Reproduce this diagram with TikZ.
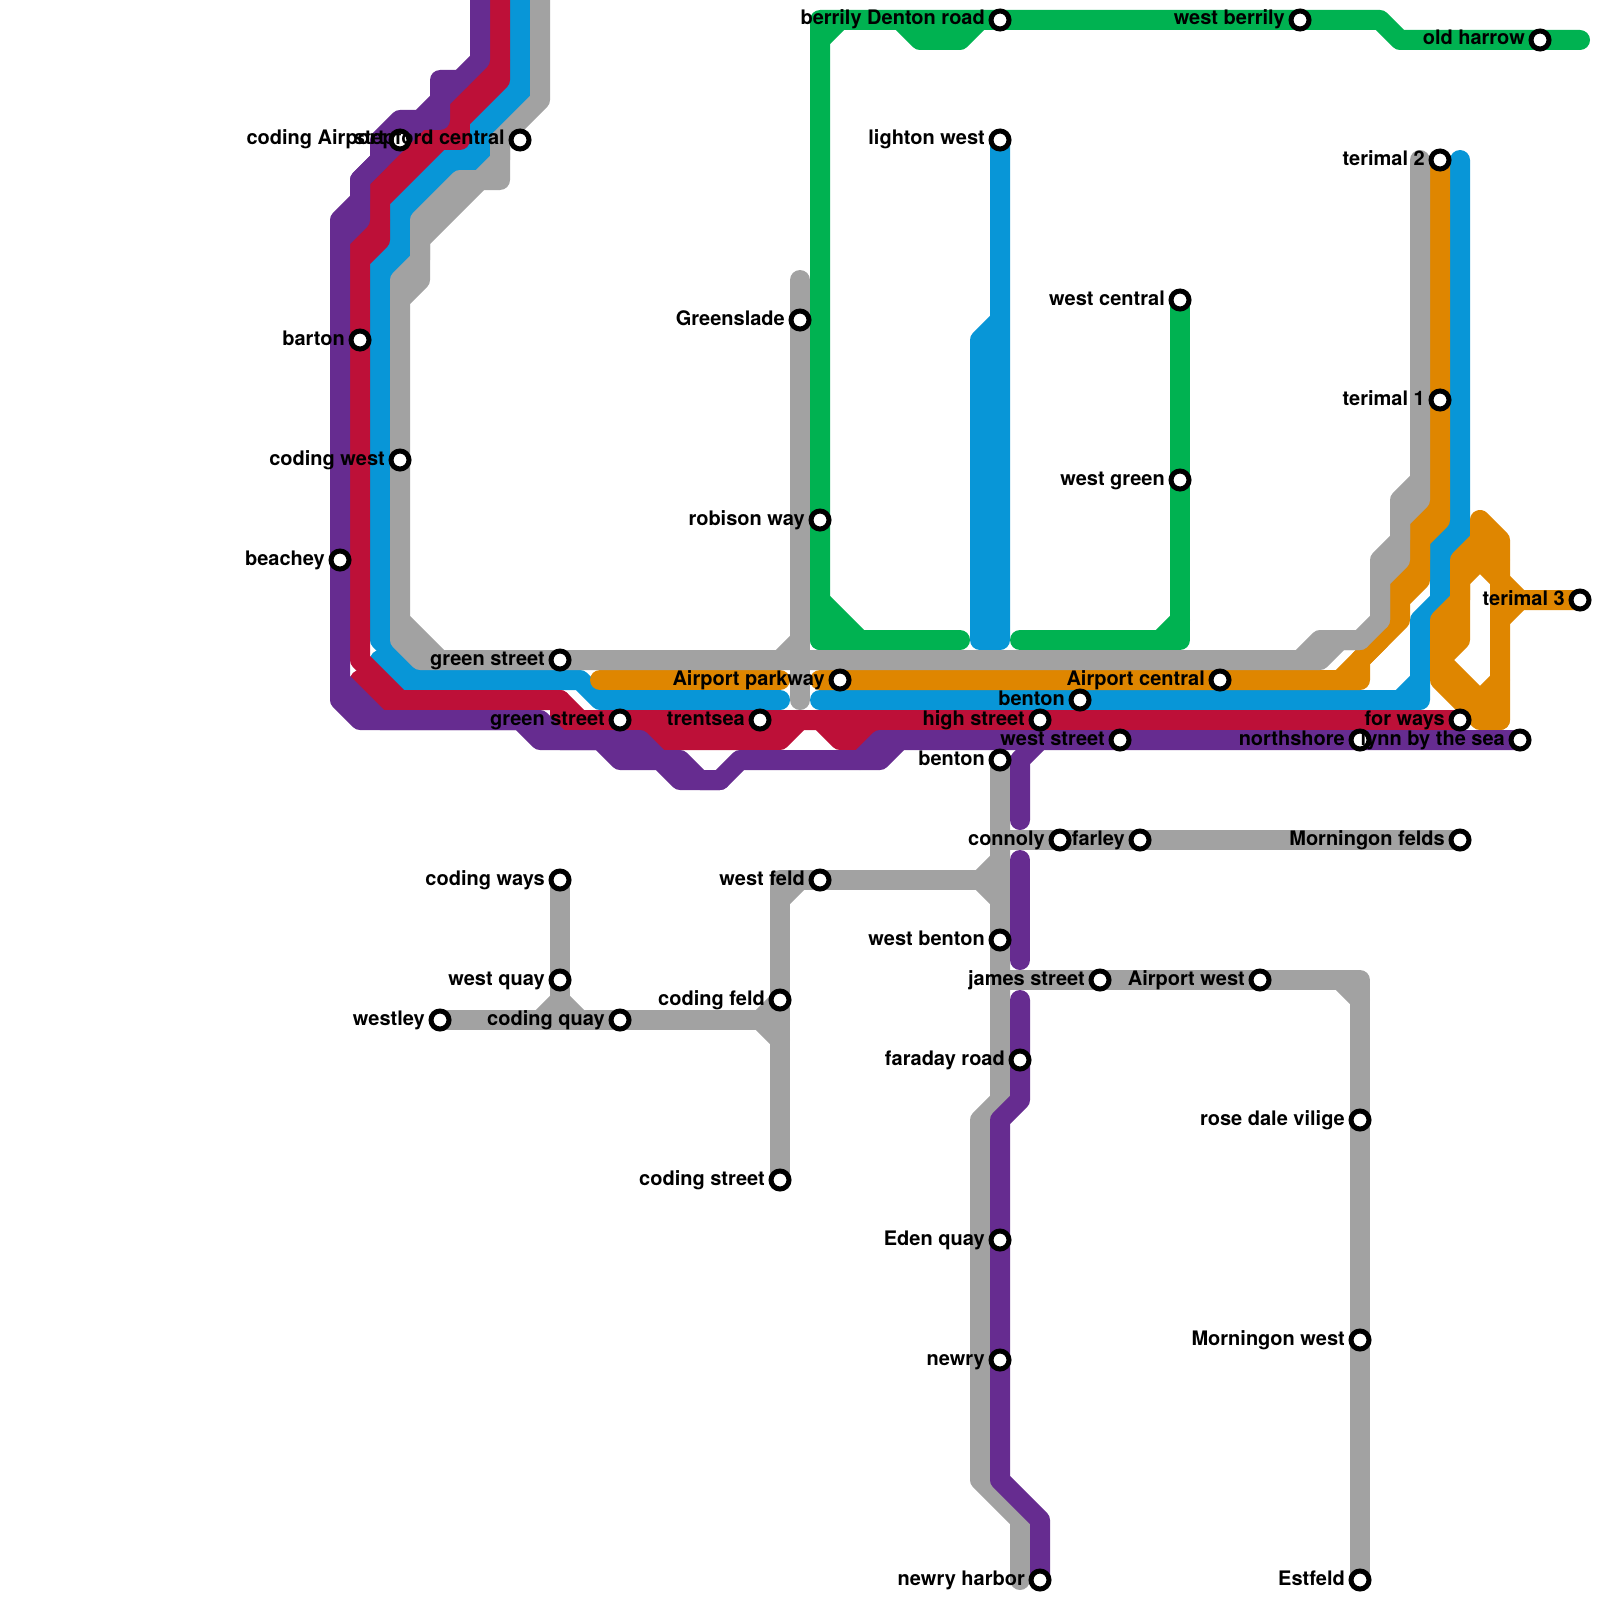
\documentclass[tikz,border=0pt]{standalone}
\usepackage{fontspec}
\setmainfont{TeX Gyre Heros}
\definecolor{mgreen}{HTML}{00B251}
\definecolor{mblue}{HTML}{0896D7}
\definecolor{morange}{HTML}{DF8600}
\definecolor{mgray}{HTML}{A2A2A2}
\definecolor{mred}{HTML}{BD1038}
\definecolor{mpurple}{HTML}{662C90}
\tikzset{
  metro/.style={line width=20pt,line cap=round,line join=round},
  stn/.style={circle,draw=black,fill=white,line width=5pt,minimum size=18pt,inner sep=0pt},
  lbl/.style={anchor=base east,inner sep=0pt,text=black,font=\bfseries\fontsize{20}{20}\selectfont}
}
\newcommand{\stationlist}{%
a/1000/20/berrily Denton road,b/1300/20/west berrily,c/1540/40/old harrow,d/1000/140/lighton west,
e/400/140/coding Airport,f/520/140/stepford central,g/1440/160/terimal 2,h/1180/300/west central,
i/800/320/Greenslade,j/360/340/barton,k/400/460/coding west,l/1440/400/terimal 1,m/1180/480/west green,
n/820/520/robison way,o/340/560/beachey,p/1580/600/terimal 3,q/560/660/green street,r/840/680/Airport parkway,
s/1220/680/Airport central,t/1080/700/benton,u/1040/720/high street,v/620/720/green street,w/760/720/trentsea,
x/1460/720/for ways,y/1120/740/west street,z/1360/740/northshore,aa/1520/740/lynn by the sea,ab/1000/760/benton,
ac/1060/840/connoly,ad/1140/840/farley,ae/1460/840/Morningon felds,af/560/880/coding ways,ag/820/880/west feld,
ah/1000/940/west benton,ai/560/980/west quay,aj/1100/980/james street,ak/1260/980/Airport west,al/780/1000/coding feld,
am/440/1020/westley,an/620/1020/coding quay,ao/1020/1060/faraday road,ap/1360/1120/rose dale vilige,
aq/780/1180/coding street,ar/1000/1240/Eden quay,as/1360/1340/Morningon west,at/1000/1360/newry,
au/1360/1580/Estfeld,av/1040/1580/newry harbor}
\begin{document}
\begin{tikzpicture}[x=1pt,y=-1pt]
\useasboundingbox (0,0) rectangle (1600,1600);
\clip (0,0) rectangle (1600,1600);
% green
\draw[metro,mgreen] (820,640)--(820,20)--(1380,20)--(1400,40)--(1580,40);
\draw[metro,mgreen] (820,40)--(840,20);
\draw[metro,mgreen] (900,20)--(920,40)--(960,40)--(980,20);
\draw[metro,mgreen] (820,600)--(860,640)--(960,640)--(820,640);
\draw[metro,mgreen] (820,620)--(840,640);
\draw[metro,mgreen] (1020,640)--(1180,640)--(1180,300);
\draw[metro,mgreen] (1160,640)--(1180,620);
% blue
\draw[metro,mblue] (520,-20)--(520,100)--(400,220)--(400,260)--(380,280)--(380,640)--(420,680)--(580,680)--(600,700)--(780,700);
\draw[metro,mblue] (520,80)--(400,200)--(400,220);
\draw[metro,mblue] (400,240)--(380,260)--(380,280);
\draw[metro,mblue] (380,660)--(400,680)--(420,680);
\draw[metro,mblue] (480,140)--(480,160)--(460,160);
\draw[metro,mblue] (1000,140)--(1000,640)--(980,640)--(980,340)--(1000,320);
\draw[metro,mblue] (820,700)--(1420,700)--(1420,620)--(1440,600)--(1440,560)--(1460,540)--(1460,160);
\draw[metro,mblue] (1400,700)--(1420,680);
\draw[metro,mblue] (1460,520)--(1440,540)--(1440,560);
% orange
\draw[metro,morange] (600,680)--(780,680);
\draw[metro,morange] (820,680)--(1360,680)--(1360,660)--(1400,620)--(1400,600)--(1420,580)--(1420,540)--(1440,520)--(1440,160);
\draw[metro,morange] (1340,680)--(1380,640);
\draw[metro,morange] (1440,500)--(1420,520)--(1420,560)--(1400,580)--(1400,600);
\draw[metro,morange] (1580,600)--(1520,600)--(1500,580)--(1480,560)--(1460,580)--(1460,640)--(1440,660)--(1480,700)--(1500,680)--(1500,580);
\draw[metro,morange] (1500,620)--(1520,600);
\draw[metro,morange] (1480,540)--(1480,520)--(1500,540)--(1500,580);
\draw[metro,morange] (1480,540)--(1500,560);
\draw[metro,morange] (1480,700)--(1500,720);
\draw[metro,morange] (1480,540)--(1460,560)--(1460,600)--(1440,620)--(1440,680)--(1480,720)--(1500,720)--(1500,680);
% gray
\draw[metro,mgray] (540,-20)--(540,100)--(500,140)--(500,160)--(420,240)--(420,280)--(400,300)--(400,620)--(440,660)--(1320,660)--(1340,640)--(1360,640)--(1380,620)--(1380,580)--(1400,560)--(1400,520)--(1420,500)--(1420,160);
\draw[metro,mgray] (500,140)--(500,180)--(460,180)--(420,220)--(420,260)--(400,280)--(400,300);
\draw[metro,mgray] (400,620)--(400,640)--(420,660)--(440,660);
\draw[metro,mgray] (1300,660)--(1320,640)--(1360,640);
\draw[metro,mgray] (1420,480)--(1400,500)--(1400,540)--(1380,560)--(1380,620);
\draw[metro,mgray] (800,280)--(800,700);
\draw[metro,mgray] (800,640)--(780,660);
\draw[metro,mgray] (1000,760)--(1000,1100)--(980,1120)--(980,1480)--(1020,1520)--(1020,1580);
\draw[metro,mgray] (1000,840)--(1460,840);
\draw[metro,mgray] (1000,980)--(1360,980)--(1360,1580);
\draw[metro,mgray] (1340,980)--(1360,1000);
\draw[metro,mgray] (780,1180)--(780,880)--(980,880);
\draw[metro,mgray] (780,900)--(800,880);
\draw[metro,mgray] (1000,860)--(980,880)--(1000,900);
\draw[metro,mgray] (780,1000)--(760,1020)--(780,1040);
\draw[metro,mgray] (440,1020)--(780,1020);
\draw[metro,mgray] (560,880)--(560,1000);
\draw[metro,mgray] (540,1020)--(560,1000)--(580,1020);
% red
\draw[metro,mred] (500,-20)--(500,80)--(380,200)--(380,240)--(360,260)--(360,660)--(400,700)--(560,700)--(580,720)--(1460,720);
\draw[metro,mred] (500,60)--(380,180)--(380,200);
\draw[metro,mred] (380,220)--(360,240)--(360,260);
\draw[metro,mred] (360,680)--(380,700)--(400,700);
\draw[metro,mred] (560,700)--(560,720)--(600,720);
\draw[metro,mred] (460,120)--(460,140)--(440,140);
\draw[metro,mred] (640,720)--(660,740)--(780,740)--(800,720);
\draw[metro,mred] (820,720)--(840,740)--(860,740)--(880,720);
% purple
\draw[metro,mpurple] (480,-20)--(480,60)--(440,100)--(440,120)--(420,120)--(360,180)--(360,220)--(340,240)--(340,700)--(360,720)--(520,720)--(540,740)--(600,740)--(620,760)--(660,760)--(680,780)--(720,780)--(740,760)--(880,760)--(900,740);
\draw[metro,mpurple] (460,80)--(440,80)--(440,100)--(420,120)--(400,120)--(380,140)--(380,160)--(360,180)--(360,200)--(340,220)--(340,240);
\draw[metro,mpurple] (340,680)--(380,720)--(540,720)--(560,740)--(640,740)--(660,760)--(680,760)--(700,780)--(720,780);
\draw[metro,mpurple] (860,760)--(880,740)--(1520,740);
\draw[metro,mpurple] (1040,740)--(1020,760)--(1020,820);
\draw[metro,mpurple] (1020,860)--(1020,960);
\draw[metro,mpurple] (1020,1000)--(1020,1100)--(1000,1120)--(1000,1480)--(1040,1520)--(1040,1580);
% stations
\foreach \n/\x/\y/\t in \stationlist { \node[stn] (s\n) at (\x,\y) {}; }
\foreach \n/\x/\y/\t in \stationlist { \path (s\n) ++(-15,5) node[lbl] (t\n) {\t}; }
\end{tikzpicture}
\end{document}
